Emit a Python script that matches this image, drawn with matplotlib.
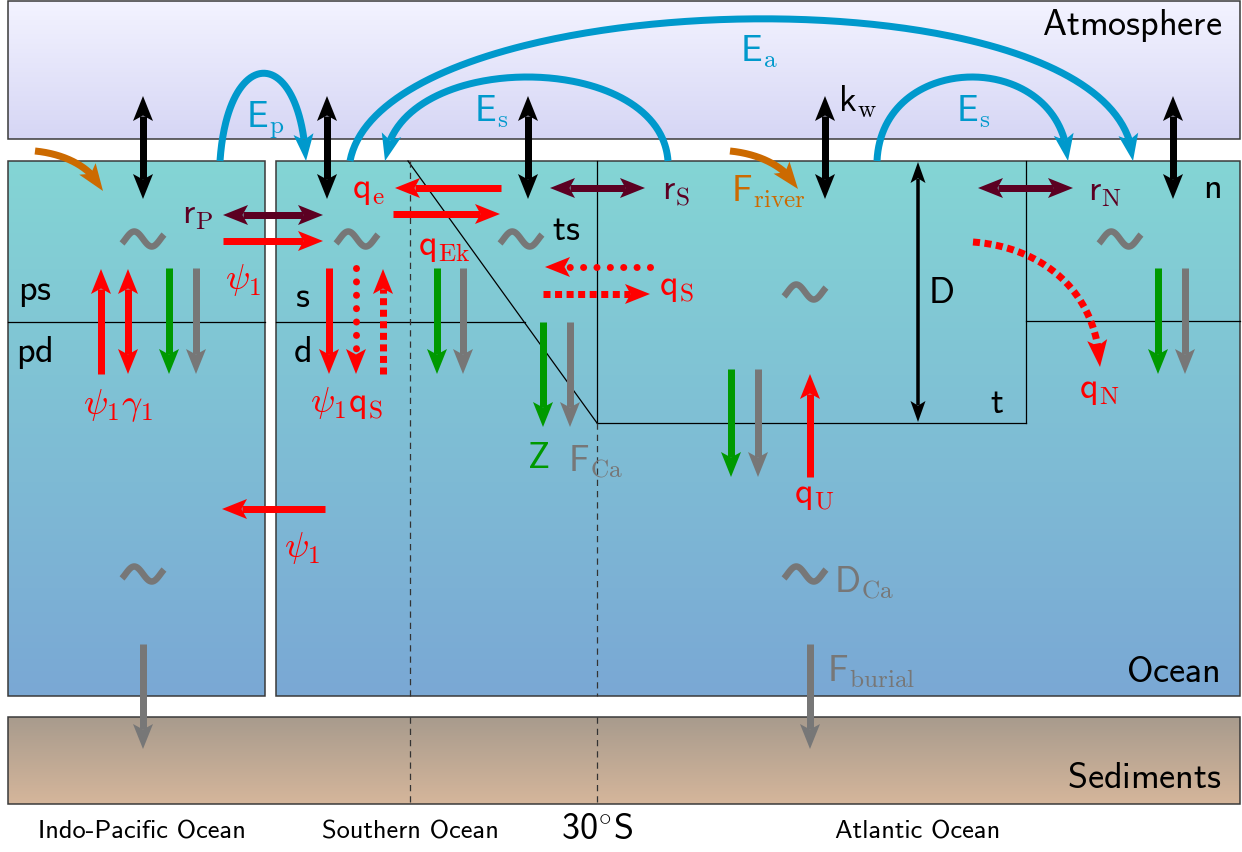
import numpy as np
import matplotlib
matplotlib.use("Agg")
import matplotlib.pyplot as plt
from matplotlib.patches import Polygon, Rectangle

plt.rcParams['mathtext.fontset'] = 'cm'

# ---- layout of the boxes (pixel units, y grows downwards) ----
boxes = {
    "atmosphere": (8, 2, 1240, 140),
    "pacific": (8, 162, 265, 697),
    "atlantic": (276, 162, 1240, 697),
    "sediments": (8, 718, 1240, 805),
}
box_colors = {
    "atmosphere": ("#f3f3ff", "#d6d6f5"),
    "pacific": ("#84d5d4", "#7aa8d5"),
    "atlantic": ("#84d5d4", "#7aa8d5"),
    "sediments": ("#a89b8d", "#d5b69b"),
}
# thin solid lines inside the ocean
inner_lines = [
    ((8, 265), (323, 323)),
    ((276, 525), (323, 323)),
    ((1026, 1240), (322, 322)),
    ((408, 597), (162, 424)),
    ((597, 1026), (424, 424)),
    ((597, 597), (162, 424)),
    ((1026, 1026), (162, 424)),
]
dashed_lines = [
    ((410, 410), (162, 697)),
    ((597, 597), (424, 697)),
    ((410, 410), (718, 805)),
    ((597, 597), (718, 805)),
]

# ---- straight arrows: x0, y0, x1, y1, colour, style, double ----
BLACK, RED, GREEN, GRAY, MAROON = "black", "#ff0000", "#009900", "#777777", "#5c0022"
BLUE, ORANGE = "#0099cc", "#cc6a00"
arrows = [
    (143, 97, 143, 200, BLACK, "-", True),
    (327, 97, 327, 200, BLACK, "-", True),
    (528, 97, 528, 200, BLACK, "-", True),
    (825, 97, 825, 200, BLACK, "-", True),
    (1173, 97, 1173, 200, BLACK, "-", True),
    (223, 216, 323, 216, MAROON, "-", True),
    (550, 189, 645, 189, MAROON, "-", True),
    (978, 189, 1073, 189, MAROON, "-", True),
    (223, 242, 323, 242, RED, "-", False),
    (501, 189, 395, 189, RED, "-", False),
    (393, 215, 500, 215, RED, "-", False),
    (650, 268, 545, 268, RED, "dot", False),
    (543, 295, 650, 295, RED, "dash", False),
    (101, 375, 101, 270, RED, "-", False),
    (128, 270, 128, 375, RED, "-", True),
    (329, 269, 329, 375, RED, "-", False),
    (356, 269, 356, 375, RED, "dot", False),
    (383, 375, 383, 270, RED, "dash", False),
    (325, 510, 222, 510, RED, "-", False),
    (810, 478, 810, 375, RED, "-", False),
    (169, 269, 169, 375, GREEN, "-", False),
    (196, 269, 196, 375, GRAY, "-", False),
    (437, 269, 437, 375, GREEN, "-", False),
    (463, 269, 463, 375, GRAY, "-", False),
    (543, 323, 543, 428, GREEN, "-", False),
    (570, 323, 570, 428, GRAY, "-", False),
    (731, 370, 731, 478, GREEN, "-", False),
    (758, 370, 758, 478, GRAY, "-", False),
    (1158, 269, 1158, 375, GREEN, "-", False),
    (1185, 269, 1185, 375, GRAY, "-", False),
    (143, 645, 143, 750, GRAY, "-", False),
    (810, 645, 810, 750, GRAY, "-", False),
]
depth_arrow = (918, 163, 918, 423)

# ---- curved arrows: cubic bezier control points, colour, style ----
curves = [
    ([(220, 162), (228, 45), (300, 45), (306, 162)], BLUE, "-"),
    ([(668, 162), (660, 50), (395, 50), (385, 162)], BLUE, "-"),
    ([(350, 162), (385, -20), (1125, -35), (1133, 162)], BLUE, "-"),
    ([(877, 162), (882, 50), (1062, 50), (1068, 162)], BLUE, "-"),
    ([(35, 152), (65, 155), (92, 168), (103, 192)], ORANGE, "-"),
    ([(730, 152), (760, 155), (787, 168), (798, 190)], ORANGE, "-"),
    ([(973, 243), (1040, 248), (1097, 290), (1100, 368)], RED, "dash"),
]

# ---- gray tilde symbols ----
tildes = [(143, 240), (357, 240), (521, 240), (805, 293), (1120, 240), (143, 575), (805, 575)]

# ---- labels: text, x, y, colour, ha ----
labels = [
    (r"$\mathsf{Atmosphere}$", 1222, 25, BLACK, "right"),
    (r"$\mathsf{Ocean}$", 1220, 672, BLACK, "right"),
    (r"$\mathsf{Sediments}$", 1222, 778, BLACK, "right"),
    (r"$\mathsf{ps}$", 18, 292, BLACK, "left"),
    (r"$\mathsf{pd}$", 16, 352, BLACK, "left"),
    (r"$\mathsf{s}$", 295, 297, BLACK, "left"),
    (r"$\mathsf{d}$", 293, 352, BLACK, "left"),
    (r"$\mathsf{ts}$", 552, 230, BLACK, "left"),
    (r"$\mathsf{t}$", 990, 403, BLACK, "left"),
    (r"$\mathsf{n}$", 1203, 188, BLACK, "left"),
    (r"$\mathsf{D}$", 928, 293, BLACK, "left"),
    (r"$\mathsf{k}_{\mathrm{w}}$", 838, 102, BLACK, "left"),
    (r"$\mathsf{E}_{\mathrm{p}}$", 246, 120, BLUE, "left"),
    (r"$\mathsf{E}_{\mathrm{s}}$", 474, 112, BLUE, "left"),
    (r"$\mathsf{E}_{\mathrm{a}}$", 740, 52, BLUE, "left"),
    (r"$\mathsf{E}_{\mathrm{s}}$", 956, 112, BLUE, "left"),
    (r"$\mathsf{r}_{\mathrm{P}}$", 182, 215, MAROON, "left"),
    (r"$\mathsf{r}_{\mathrm{S}}$", 662, 192, MAROON, "left"),
    (r"$\mathsf{r}_{\mathrm{N}}$", 1088, 192, MAROON, "left"),
    (r"$\mathsf{q}_{\mathrm{e}}$", 352, 190, RED, "left"),
    (r"$\mathsf{q}_{\mathrm{Ek}}$", 418, 247, RED, "left"),
    (r"$\mathsf{q}_{\mathrm{S}}$", 659, 287, RED, "left"),
    (r"$\psi_1$", 225, 280, RED, "left"),
    (r"$\psi_1\gamma_1$", 83, 405, RED, "left"),
    (r"$\psi_1\mathsf{q}_{\mathrm{S}}$", 310, 403, RED, "left"),
    (r"$\psi_1$", 284, 548, RED, "left"),
    (r"$\mathsf{q}_{\mathrm{U}}$", 794, 495, RED, "left"),
    (r"$\mathsf{q}_{\mathrm{N}}$", 1079, 390, RED, "left"),
    (r"$\mathsf{Z}$", 527, 458, GREEN, "left"),
    (r"$\mathsf{F}_{\mathrm{Ca}}$", 568, 462, GRAY, "left"),
    (r"$\mathsf{F}_{\mathrm{river}}$", 731, 192, ORANGE, "left"),
    (r"$\mathsf{D}_{\mathrm{Ca}}$", 834, 583, GRAY, "left"),
    (r"$\mathsf{F}_{\mathrm{burial}}$", 827, 672, GRAY, "left"),
]
bottom_labels = [("Indo-Pacific Ocean", 142), ("Southern Ocean", 410), ("Atlantic Ocean", 918)]

W, H = 1242, 853
fig = plt.figure(figsize=(W / 100, H / 100), dpi=100)
ax = fig.add_axes([0, 0, 1, 1])
PX = 0.72  # points per pixel


def gradient_box(name):
    x0, y0, x1, y1 = boxes[name]
    c0, c1 = (np.array(matplotlib.colors.to_rgb(c)) for c in box_colors[name])
    t = np.linspace(0, 1, 200)[:, None, None]
    img = c0 * (1 - t) + c1 * t
    ax.imshow(img, extent=(x0, x1, y1, y0), origin="upper", aspect="auto", zorder=0)
    ax.add_patch(Rectangle((x0, y0), x1 - x0, y1 - y0, fill=False, ec="#3a3a3a", lw=1.1, zorder=1))


def head(tip, d, color, hl=25, hw=20):
    ux, uy = d / np.hypot(*d)
    px, py = -uy, ux
    tx, ty = tip
    pts = [(tx, ty),
           (tx - ux * hl + px * hw / 2, ty - uy * hl + py * hw / 2),
           (tx - ux * hl * 0.78, ty - uy * hl * 0.78),
           (tx - ux * hl - px * hw / 2, ty - uy * hl - py * hw / 2)]
    ax.add_patch(Polygon(pts, closed=True, fc=color, ec="none", zorder=4))


def shaft(xs, ys, color, style, lw=7):
    if style == "dot":
        ax.plot(xs, ys, color=color, lw=lw * PX, ls=(0, (0.01, 1.9)),
                dash_capstyle="round", zorder=3)
    elif style == "dash":
        ax.plot(xs, ys, color=color, lw=lw * PX, ls=(0, (1.0, 0.65)),
                dash_capstyle="butt", zorder=3)
    else:
        ax.plot(xs, ys, color=color, lw=lw * PX, solid_capstyle="butt", zorder=3)


def straight(x0, y0, x1, y1, color, style, both, lw=7, hl=25, hw=20):
    d = np.array([x1 - x0, y1 - y0], float)
    u = d / np.hypot(*d)
    s1 = np.array([x1, y1]) - u * hl * 0.8
    s0 = np.array([x0, y0]) + (u * hl * 0.8 if both else 0)
    shaft([s0[0], s1[0]], [s0[1], s1[1]], color, style, lw)
    head((x1, y1), d, color, hl, hw)
    if both:
        head((x0, y0), -d, color, hl, hw)


def bezier(ctrl, n=200):
    p = np.array(ctrl, float)
    t = np.linspace(0, 1, n)[:, None]
    return ((1 - t) ** 3 * p[0] + 3 * (1 - t) ** 2 * t * p[1]
            + 3 * (1 - t) * t ** 2 * p[2] + t ** 3 * p[3])


for name in boxes:
    gradient_box(name)

for (xa, xb), (ya, yb) in inner_lines:
    ax.plot([xa, xb], [ya, yb], color="black", lw=0.9, zorder=1)
for (xa, xb), (ya, yb) in dashed_lines:
    ax.plot([xa, xb], [ya, yb], color="#333333", lw=0.9, ls=(0, (5, 4)), zorder=1)

for cx, cy in tildes:
    t = np.linspace(-1.2 * np.pi, 1.2 * np.pi, 80)
    ax.plot(cx + 21 * t / (1.2 * np.pi), cy + 7.5 * np.sin(t), color=GRAY,
            lw=6.5 * PX, solid_capstyle="butt", zorder=3)

for x0, y0, x1, y1, color, style, both in arrows:
    straight(x0, y0, x1, y1, color, style, both)
straight(*depth_arrow, BLACK, "-", True, lw=3.5, hl=21, hw=15)

for ctrl, color, style in curves:
    pts = bezier(ctrl)
    tip = pts[-1]
    dist = np.hypot(*(pts - tip).T)
    keep = pts[dist >= 20]
    shaft(keep[:, 0], keep[:, 1], color, style)
    head(tip, tip - keep[-1], color, 27, 20)

for text, x, y, color, ha in labels:
    ax.text(x, y, text, color=color, fontsize=26, ha=ha, va="center", zorder=5)

for text, x in bottom_labels:
    ax.text(x, 832, text, family="cmss10", fontsize=19, ha="center", va="center")
ax.text(597, 830, r"30$^{\circ}$S", family="cmss10", fontsize=26, ha="center", va="center")

ax.set_xlim(0, W)
ax.set_ylim(H, 0)
ax.axis("off")
fig.savefig("out.png", dpi=100)
